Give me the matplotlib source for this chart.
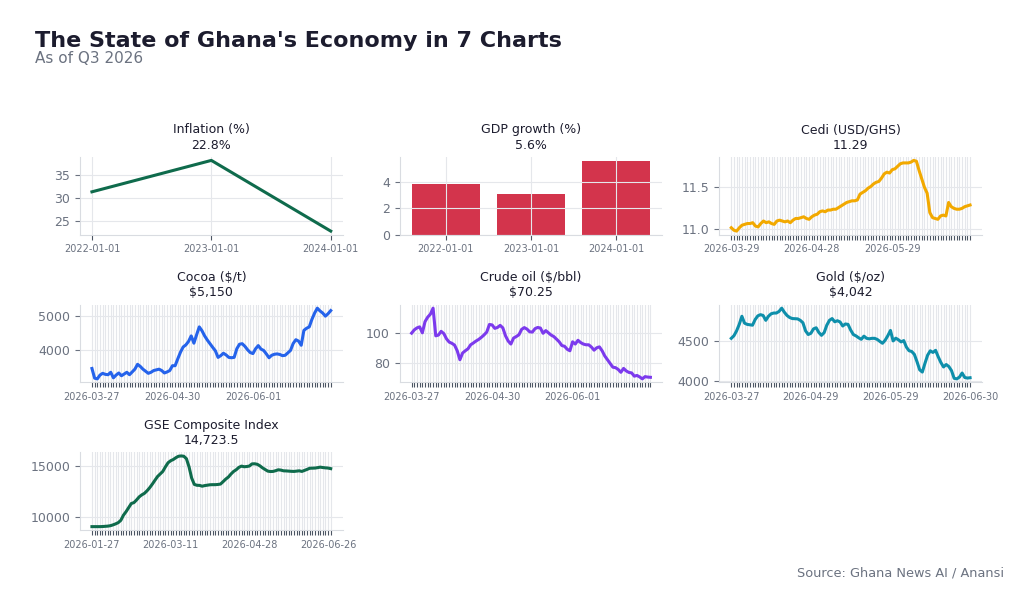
import matplotlib
matplotlib.use("Agg")
import matplotlib.pyplot as plt

INK = "#1c1c2e"
MUTED = "#6b7280"
GRID = "#e5e7eb"
SPINE = "#d9dce1"

# annual series
years = ["2022-01-01", "2023-01-01", "2024-01-01"]
inflation = [31.3, 38.1, 22.8]
gdp_growth = [3.8, 3.1, 5.6]

# daily series, with the labelled dates
cedi_dates = ["2026-03-29", "2026-04-28", "2026-05-29"]
cedi = [11.02, 10.99, 10.98, 11.02, 11.05, 11.06, 11.07, 11.07, 11.08, 11.04,
        11.03, 11.07, 11.10, 11.08, 11.09, 11.07, 11.06, 11.10, 11.11, 11.10,
        11.09, 11.10, 11.08, 11.11, 11.13, 11.13, 11.14, 11.15, 11.13, 11.12,
        11.15, 11.17, 11.18, 11.21, 11.22, 11.21, 11.23, 11.23, 11.24, 11.24,
        11.26, 11.28, 11.30, 11.32, 11.33, 11.34, 11.34, 11.35, 11.42, 11.44,
        11.46, 11.49, 11.51, 11.54, 11.56, 11.57, 11.61, 11.66, 11.68, 11.67,
        11.71, 11.72, 11.75, 11.78, 11.79, 11.79, 11.79, 11.80, 11.82, 11.81,
        11.70, 11.60, 11.50, 11.43, 11.20, 11.14, 11.13, 11.12, 11.16, 11.17,
        11.16, 11.32, 11.27, 11.25, 11.24, 11.24, 11.25, 11.27, 11.28, 11.29]

cocoa_dates = ["2026-03-27", "2026-04-30", "2026-06-01"]
cocoa = [3480, 3200, 3180, 3290, 3340, 3310, 3300, 3370, 3210, 3290,
         3350, 3270, 3320, 3370, 3300, 3380, 3460, 3600, 3540, 3460,
         3400, 3340, 3370, 3420, 3440, 3460, 3420, 3350, 3380, 3420,
         3560, 3560, 3760, 3950, 4100, 4160, 4260, 4420, 4210, 4450,
         4680, 4570, 4420, 4300, 4195, 4090, 3990, 3800, 3850, 3920,
         3870, 3800, 3790, 3800, 4050, 4180, 4195, 4120, 4020, 3940,
         3910, 4050, 4140, 4040, 4000, 3900, 3790, 3860, 3890, 3900,
         3885, 3850, 3860, 3930, 4000, 4200, 4310, 4270, 4150, 4580,
         4640, 4680, 4900, 5080, 5220, 5140, 5080, 4990, 5060, 5150]

crude_dates = ["2026-03-27", "2026-04-30", "2026-06-01"]
crude = [99.8, 102.0, 103.3, 104.0, 100.0, 107.5, 110.5, 112.5, 116.5, 98.0,
         98.5, 101.0, 99.5, 96.0, 93.8, 93.0, 91.8, 88.0, 82.0, 86.5,
         88.0, 89.3, 92.0, 93.2, 94.5, 95.6, 97.0, 98.6, 100.5, 105.6,
         105.3, 103.0, 103.6, 105.0, 103.3, 98.0, 94.5, 92.5, 96.5, 97.5,
         98.7, 102.3, 103.5, 102.5, 100.7, 100.5, 102.8, 103.6, 103.2, 99.7,
         101.5, 100.0, 98.5, 97.5, 95.8, 94.0, 91.5, 91.0, 89.0, 88.0,
         94.0, 92.5, 95.0, 93.5, 92.5, 92.0, 92.0, 90.5, 88.4, 90.0,
         90.6, 88.0, 84.5, 82.0, 79.5, 77.0, 76.7, 75.5, 73.6, 76.2,
         74.5, 73.5, 73.2, 71.0, 71.5, 70.5, 69.2, 70.7, 70.4, 70.25]

gold_dates = ["2026-03-27", "2026-04-29", "2026-05-29", "2026-06-30"]
gold = [4528, 4560, 4620, 4700, 4800, 4715, 4700, 4695, 4690, 4760,
        4805, 4820, 4810, 4750, 4800, 4830, 4840, 4840, 4860, 4900,
        4850, 4810, 4785, 4772, 4770, 4768, 4750, 4720, 4620, 4575,
        4590, 4645, 4658, 4600, 4565, 4598, 4690, 4750, 4772, 4732,
        4745, 4730, 4680, 4705, 4700, 4630, 4575, 4558, 4535, 4516,
        4555, 4528, 4522, 4528, 4528, 4515, 4490, 4467, 4505, 4560,
        4625, 4496, 4530, 4510, 4484, 4500, 4420, 4375, 4366, 4330,
        4240, 4140, 4112, 4220, 4320, 4374, 4354, 4380, 4300, 4230,
        4175, 4205, 4180, 4130, 4035, 4028, 4050, 4100, 4045, 4038,
        4042]

gse_dates = ["2026-01-27", "2026-03-11", "2026-04-28", "2026-06-26"]
gse = [9030, 9030, 9030, 9030, 9040, 9060, 9080, 9120, 9200, 9300,
       9420, 9650, 10150, 10500, 10900, 11300, 11390, 11650, 11950, 12150,
       12300, 12550, 12850, 13200, 13580, 13950, 14200, 14450, 14900, 15300,
       15500, 15620, 15800, 15940, 15970, 15940, 15700, 14900, 13800, 13180,
       13090, 13080, 13000, 13060, 13100, 13140, 13150, 13150, 13170, 13210,
       13450, 13700, 13900, 14200, 14450, 14620, 14850, 14970, 14910, 14930,
       14980, 15190, 15200, 15150, 15000, 14800, 14640, 14480, 14440, 14450,
       14520, 14610, 14580, 14510, 14500, 14480, 14460, 14450, 14480, 14510,
       14450, 14550, 14650, 14760, 14770, 14780, 14820, 14870, 14830, 14800,
       14780, 14723.5]


def style_ax(ax):
    for s in ["top", "right"]:
        ax.spines[s].set_visible(False)
    for s in ["left", "bottom"]:
        ax.spines[s].set_color(SPINE)
    ax.grid(True, color=GRID, lw=0.8)
    ax.tick_params(axis="y", labelsize=9, labelcolor=MUTED, color=MUTED, length=3.5)
    ax.tick_params(axis="x", labelsize=7, labelcolor=MUTED, color="#4b5563", length=3.5)


def set_title(ax, name, latest):
    ax.set_title(name + "\n" + latest, fontsize=9, color=INK, pad=6, linespacing=1.25)


def daily_plot(ax, values, dates, color, name, latest):
    x = list(range(len(values)))
    ax.plot(x, values, color=color, lw=2.2, solid_joinstyle="round")
    step = len(values) // 3
    labels = [""] * len(values)
    for j, d in enumerate(dates):
        labels[j * step] = d
    ax.set_xticks(x)
    ax.set_xticklabels(labels)
    style_ax(ax)
    set_title(ax, name, latest)


def main():
    fig, axes = plt.subplots(3, 3, figsize=(10.35, 6.08), dpi=100)
    fig.subplots_adjust(left=0.0773, right=0.9488, top=0.742, bottom=0.128,
                        wspace=0.217, hspace=0.9)

    ax = axes[0, 0]
    ax.plot(years, inflation, color="#0f6b4c", lw=2.2)
    style_ax(ax)
    set_title(ax, "Inflation (%)", f"{inflation[-1]:.1f}%")

    ax = axes[0, 1]
    ax.bar(years, gdp_growth, color="#d3344c", width=0.8)
    style_ax(ax)
    set_title(ax, "GDP growth (%)", f"{gdp_growth[-1]:.1f}%")

    daily_plot(axes[0, 2], cedi, cedi_dates, "#f2a900", "Cedi (USD/GHS)",
               f"{cedi[-1]:.2f}")
    daily_plot(axes[1, 0], cocoa, cocoa_dates, "#2563eb", r"Cocoa (\$/t)",
               rf"\${cocoa[-1]:,.0f}")
    daily_plot(axes[1, 1], crude, crude_dates, "#7c3aed", r"Crude oil (\$/bbl)",
               rf"\${crude[-1]:,.2f}")
    daily_plot(axes[1, 2], gold, gold_dates, "#0e8fab", r"Gold (\$/oz)",
               rf"\${gold[-1]:,.0f}")
    daily_plot(axes[2, 0], gse, gse_dates, "#0f6b4c", "GSE Composite Index",
               f"{gse[-1]:,.1f}")

    axes[2, 1].axis("off")
    axes[2, 2].axis("off")

    fig.text(35 / 1035, 1 - 47 / 608, "The State of Ghana's Economy in 7 Charts",
             fontsize=16, fontweight="bold", color=INK, va="baseline")
    fig.text(35 / 1035, 1 - 63 / 608, "As of Q3 2026", fontsize=11,
             color=MUTED, va="baseline")
    fig.text(1004 / 1035, 1 - 576 / 608, "Source: Ghana News AI / Anansi",
             fontsize=9.25, color=MUTED, ha="right", va="baseline")

    fig.savefig("out.png", dpi=100, facecolor="white")


if __name__ == "__main__":
    main()
